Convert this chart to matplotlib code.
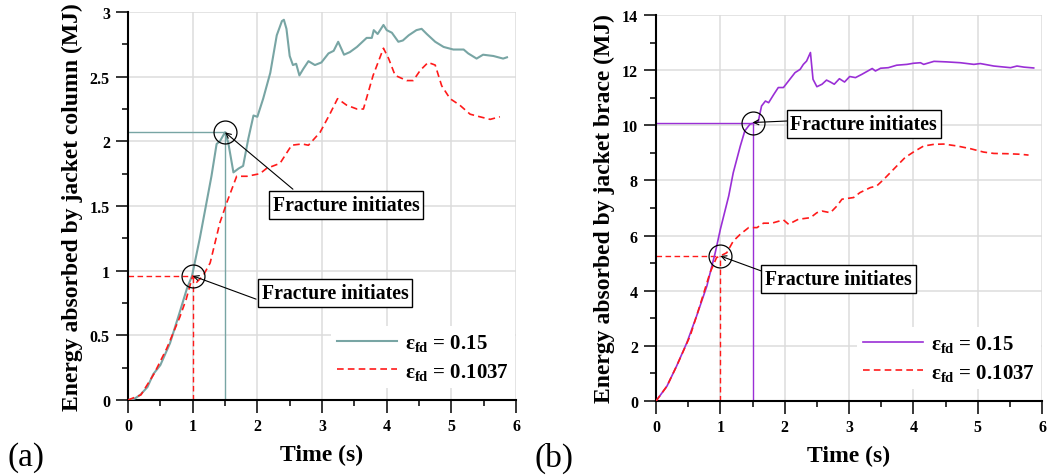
import matplotlib
matplotlib.use('Agg')
import matplotlib.pyplot as plt
from matplotlib.ticker import MultipleLocator

# (a) jacket column
time_a_hi = [0, 0.1, 0.19, 0.3, 0.39, 0.5, 0.65, 0.8, 0.91, 0.99, 1.11, 1.29, 1.37, 1.42, 1.5,
             1.55, 1.63, 1.71, 1.78, 1.86, 1.94, 2.0, 2.09, 2.2, 2.3, 2.38, 2.41, 2.45, 2.5,
             2.55, 2.6, 2.65, 2.71, 2.79, 2.89, 2.99, 3.1, 3.18, 3.25, 3.34, 3.43, 3.54, 3.69,
             3.77, 3.8, 3.86, 3.95, 4.0, 4.08, 4.18, 4.25, 4.34, 4.46, 4.54, 4.62, 4.75, 4.88,
             5.03, 5.19, 5.26, 5.39, 5.49, 5.65, 5.8, 5.86]
energy_a_hi = [0, 0.01, 0.04, 0.1, 0.2, 0.27, 0.44, 0.68, 0.86, 0.96, 1.25, 1.73, 1.98, 2.0, 2.07,
               1.99, 1.76, 1.79, 1.81, 2.02, 2.2, 2.19, 2.33, 2.53, 2.82, 2.93, 2.94, 2.87, 2.66,
               2.59, 2.6, 2.51, 2.56, 2.62, 2.59, 2.61, 2.68, 2.7, 2.77, 2.67, 2.69, 2.73, 2.8,
               2.8, 2.86, 2.83, 2.9, 2.86, 2.84, 2.77, 2.78, 2.82, 2.86, 2.87, 2.83, 2.77, 2.73,
               2.71, 2.71, 2.68, 2.64, 2.67, 2.66, 2.64, 2.65]
time_a_lo = [0, 0.2, 0.4, 0.6, 0.8, 0.9, 1.0, 1.06, 1.16, 1.27, 1.42, 1.53, 1.68, 1.84, 2.04,
             2.14, 2.35, 2.53, 2.69, 2.79, 2.97, 3.12, 3.24, 3.38, 3.54, 3.64, 3.79, 3.95, 4.03,
             4.13, 4.31, 4.41, 4.52, 4.64, 4.75, 4.85, 4.98, 5.13, 5.29, 5.44, 5.6, 5.75]
energy_a_lo = [0, 0.04, 0.2, 0.4, 0.64, 0.78, 0.96, 0.91, 0.96, 1.06, 1.37, 1.53, 1.73, 1.73, 1.75,
               1.79, 1.83, 1.97, 1.98, 1.97, 2.07, 2.21, 2.33, 2.28, 2.25, 2.25, 2.51, 2.72, 2.64,
               2.51, 2.47, 2.47, 2.55, 2.61, 2.59, 2.43, 2.33, 2.28, 2.21, 2.19, 2.17, 2.19]
frac_time_a = [1.5, 1.0]
frac_energy_a = [2.07, 0.96]

# (b) jacket brace
time_b_hi = [0, 0.17, 0.32, 0.48, 0.63, 0.79, 0.92, 1.0, 1.13, 1.2, 1.31, 1.38, 1.46, 1.54, 1.59,
             1.64, 1.7, 1.75, 1.83, 1.9, 1.98, 2.06, 2.16, 2.24, 2.29, 2.34, 2.4, 2.42, 2.44,
             2.5, 2.58, 2.65, 2.71, 2.77, 2.85, 2.93, 3.01, 3.1, 3.2, 3.36, 3.41, 3.49, 3.61,
             3.74, 3.9, 4.0, 4.11, 4.16, 4.32, 4.52, 4.73, 4.94, 5.04, 5.25, 5.51, 5.61, 5.72, 5.87]
energy_b_hi = [0, 0.54, 1.27, 2.12, 3.08, 4.17, 5.38, 6.23, 7.44, 8.28, 9.25, 9.8, 10.04, 10.1, 10.15,
               10.7, 10.88, 10.82, 11.12, 11.37, 11.37, 11.61, 11.91, 12.03, 12.21, 12.33, 12.64, 12.15, 11.67,
               11.4, 11.49, 11.64, 11.57, 11.49, 11.69, 11.57, 11.77, 11.73, 11.85, 12.06, 11.97, 12.07, 12.09,
               12.18, 12.21, 12.25, 12.27, 12.21, 12.32, 12.3, 12.27, 12.21, 12.24, 12.15, 12.09, 12.15, 12.11, 12.08]
time_b_lo = [0, 0.17, 0.32, 0.53, 0.68, 0.84, 0.94, 1.0, 1.1, 1.2, 1.31, 1.44, 1.57, 1.67, 1.8,
             1.98, 2.06, 2.21, 2.4, 2.5, 2.58, 2.71, 2.81, 2.89, 3.07, 3.17, 3.33, 3.43, 3.54,
             3.69, 3.87, 4.0, 4.16, 4.32, 4.47, 4.68, 4.89, 5.09, 5.25, 5.46, 5.66, 5.79]
energy_b_lo = [0, 0.54, 1.27, 2.36, 3.45, 4.66, 5.2, 5.26, 5.38, 5.8, 6.05, 6.29, 6.29, 6.45, 6.45,
               6.57, 6.41, 6.59, 6.65, 6.83, 6.89, 6.83, 7.07, 7.32, 7.38, 7.56, 7.74, 7.8, 8.04,
               8.4, 8.83, 9.03, 9.25, 9.31, 9.32, 9.25, 9.15, 9.03, 8.98, 8.97, 8.95, 8.92]
frac_time_b = [1.5, 1.0]
frac_energy_b = [10.1, 5.26]

legend_labels = [r'ε$_{\rm fd}$ = 0.15', r'ε$_{\rm fd}$ = 0.1037']

plt.rcParams['font.family'] = ['Liberation Serif', 'DejaVu Serif']
plt.rcParams['font.weight'] = 'bold'
plt.rcParams['mathtext.fontset'] = 'custom'
plt.rcParams['mathtext.rm'] = 'Liberation Serif:bold'
plt.rcParams['mathtext.it'] = 'Liberation Serif:bold'
plt.rcParams['mathtext.bf'] = 'Liberation Serif:bold'

RED = '#ff1a1a'
DASH = (0, (4, 2.5))


def setup_axes(ax, ymax, ymajor, yminor, ylabel):
    ax.set_xlim(0, 6)
    ax.set_ylim(0, ymax)
    ax.xaxis.set_major_locator(MultipleLocator(1))
    ax.xaxis.set_minor_locator(MultipleLocator(0.5))
    ax.yaxis.set_major_locator(MultipleLocator(ymajor))
    ax.yaxis.set_minor_locator(MultipleLocator(yminor))
    ax.grid(True, which='major', color='#dcdcdc', lw=1.1, zorder=0)
    ax.set_axisbelow(True)
    for s in ['top', 'right']:
        ax.spines[s].set_visible(False)
    for s in ['left', 'bottom']:
        ax.spines[s].set_linewidth(1.5)
    ax.tick_params(which='major', direction='out', length=9, width=1.1, labelsize=11.5, pad=4)
    ax.tick_params(which='minor', direction='out', length=4.5, width=1.1)
    ax.set_xlabel('Time (s)', fontsize=17, fontweight='bold', labelpad=7)
    ax.set_ylabel(ylabel, fontsize=17, fontweight='bold', labelpad=5)


def draw_panel(ax, t_hi, e_hi, t_lo, e_lo, frac_t, frac_e, color, lw, boxes, starts):
    ax.plot(t_hi, e_hi, color=color, lw=lw, zorder=3, label=legend_labels[0])
    ax.plot(t_lo, e_lo, color=RED, lw=1.2, ls=DASH, zorder=3, label=legend_labels[1])
    # guide lines to fracture points
    ax.plot([0, frac_t[0]], [frac_e[0], frac_e[0]], color=color, lw=1.0, zorder=2)
    ax.plot([frac_t[0], frac_t[0]], [0, frac_e[0]], color=color, lw=1.0, zorder=2)
    ax.plot([0, frac_t[1]], [frac_e[1], frac_e[1]], color=RED, lw=1.0, ls=DASH, zorder=2)
    ax.plot([frac_t[1], frac_t[1]], [0, frac_e[1]], color=RED, lw=1.0, ls=DASH, zorder=2)
    ax.plot(frac_t, frac_e, 'o', mfc='none', mec='black', ms=16.5, mew=0.9, zorder=4)
    for (bx, by), (sx, sy), (px, py) in zip(boxes, starts, zip(frac_t, frac_e)):
        ax.annotate('', xy=(px, py), xytext=(sx, sy),
                    arrowprops=dict(arrowstyle='->', color='black', lw=0.8,
                                    shrinkA=0, shrinkB=0, mutation_scale=9), zorder=5)
        ax.text(bx, by, 'Fracture initiates', ha='center', va='center', fontsize=14.2,
                fontweight='bold', zorder=6,
                bbox=dict(boxstyle='square,pad=0.2', fc='white', ec='black', lw=1.0))
    leg = ax.legend(loc='lower right', bbox_to_anchor=(1.013, 0.015), fontsize=15, frameon=True,
                    fancybox=False, edgecolor='none', facecolor='white', framealpha=1,
                    handlelength=2.9, handletextpad=0.35, labelspacing=0.35,
                    borderpad=0.3, borderaxespad=0.3)
    leg.set_zorder(7)


fig = plt.figure(figsize=(10.51, 4.77), dpi=100)
ax1 = fig.add_axes([0.1218, 0.1593, 0.3692, 0.8134])
ax2 = fig.add_axes([0.6242, 0.1572, 0.3673, 0.8092])

setup_axes(ax1, 3, 0.5, 0.25, 'Energy absorbed by jacket column (MJ)')
ax1.set_yticks([0, 0.5, 1, 1.5, 2, 2.5, 3], ['0', '0.5', '1', '1.5', '2', '2.5', '3'])
draw_panel(ax1, time_a_hi, energy_a_hi, time_a_lo, energy_a_lo, frac_time_a, frac_energy_a,
           '#78a5a4', 1.5, boxes=[(3.37, 1.51), (3.2, 0.83)],
           starts=[(2.55, 1.63), (1.98, 0.78)])

setup_axes(ax2, 14, 2, 1, 'Energy absorbed by jacket brace (MJ)')
draw_panel(ax2, time_b_hi, energy_b_hi, time_b_lo, energy_b_lo, frac_time_b, frac_energy_b,
           '#9a2fd6', 1.2, boxes=[(3.23, 10.05), (2.84, 4.42)],
           starts=[(2.07, 10.16), (1.68, 4.68)])

for ax in (ax1, ax2):
    for lab in ax.get_xticklabels() + ax.get_yticklabels():
        lab.set_fontweight('bold')

fig.text(0.007, 0.04, '(a)', fontsize=24, fontweight='normal', va='center', ha='left')
fig.text(0.509, 0.04, '(b)', fontsize=24, fontweight='normal', va='center', ha='left')

fig.savefig('out.png', dpi=100)
